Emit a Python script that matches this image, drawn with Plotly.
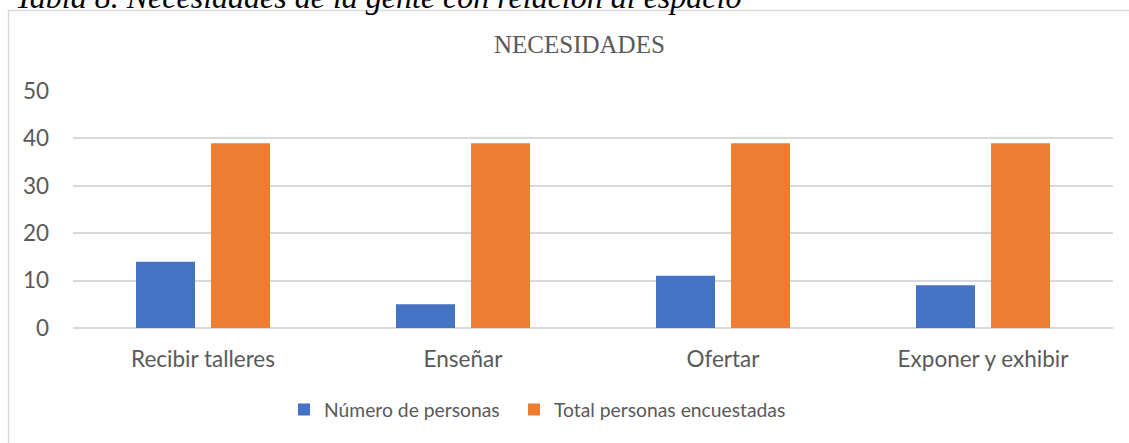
import plotly.graph_objects as go

categorias = ["Recibir talleres", "Enseñar", "Ofertar", "Exponer y exhibir"]
numero_personas = [14, 5, 11, 9]
total_encuestadas = [39, 39, 39, 39]

# Page pixels (body margin removed by the post_script below).
OFF = 0
PAGE_W, PAGE_H = 1129, 443
W, H = PAGE_W - OFF, PAGE_H - OFF
PLOT_L, PLOT_R, PLOT_T, PLOT_B = 73, 1113, 91, 328  # page px
L = PLOT_L - OFF
R = W - (PLOT_R - OFF)
T = PLOT_T - OFF
B = H - (PLOT_B - OFF)
PW, PH = PLOT_R - PLOT_L, PLOT_B - PLOT_T

def px_x(p):
    return (p - PLOT_L) / PW

def px_y(p):
    return (PLOT_B - p) / PH

TXT = "#595959"
FONT = "Lato"
LEG_FONT = dict(family=FONT, size=19.3, color=TXT)

fig = go.Figure()
fig.add_trace(go.Bar(name="Número de personas", x=categorias, y=numero_personas,
                     marker=dict(color="#4472C4", line=dict(width=0)), legend="legend"))
fig.add_trace(go.Bar(name="Total personas encuestadas", x=categorias, y=total_encuestadas,
                     marker=dict(color="#ED7D31", line=dict(width=0)), legend="legend2"))

fig.update_layout(
    width=W, height=H, autosize=False,
    margin=dict(l=L, r=R, t=T, b=B, pad=0),
    paper_bgcolor="white", plot_bgcolor="white",
    barmode="group", bargap=0.423, bargroupgap=0.213,
    font=dict(family=FONT, size=22.5, color=TXT),
    showlegend=True,
    legend=dict(orientation="h", x=px_x(284), xanchor="left", y=px_y(410), yanchor="middle",
                font=LEG_FONT, bgcolor="rgba(0,0,0,0)", itemwidth=30),
    legend2=dict(orientation="h", x=px_x(514), xanchor="left", y=px_y(410), yanchor="middle",
                 font=LEG_FONT, bgcolor="rgba(0,0,0,0)", itemwidth=30),
    xaxis=dict(showgrid=False, showline=False, zeroline=False, ticks="",
               tickfont=dict(family=FONT, size=22.5, color=TXT), ticklabelstandoff=15,
               fixedrange=True),
    yaxis=dict(range=[0, 50], dtick=10, tick0=0, showgrid=True, gridcolor="#D9D9D9", gridwidth=1.5,
               zeroline=True, zerolinecolor="#D9D9D9", zerolinewidth=1.5, showline=False, ticks="",
               tickfont=dict(family=FONT, size=22.5, color=TXT), ticklabelstandoff=23,
               fixedrange=True),
    shapes=[dict(type="rect", xref="paper", yref="paper",
                 x0=px_x(8.5), x1=px_x(1140), y0=px_y(10.5), y1=px_y(460),
                 line=dict(color="#D9D9D9", width=1.5), fillcolor="rgba(0,0,0,0)", layer="below")],
    annotations=[
        dict(text="NECESIDADES", xref="paper", yref="paper", x=px_x(579), y=px_y(45),
             xanchor="center", yanchor="middle", showarrow=False,
             font=dict(family="Liberation Serif", size=25, color=TXT)),
        dict(text="<i>Tabla 8. Necesidades de la gente con relación al espacio</i>", xref="paper", yref="paper",
             x=px_x(13), y=px_y(-3.3), xanchor="left", yanchor="middle", showarrow=False,
             font=dict(family="Liberation Serif", size=32, color="black")),
    ],
)

fig.write_html("out.html", config={"displayModeBar": False},
               post_script="document.body.style.margin='0';document.body.style.overflow='hidden';")
